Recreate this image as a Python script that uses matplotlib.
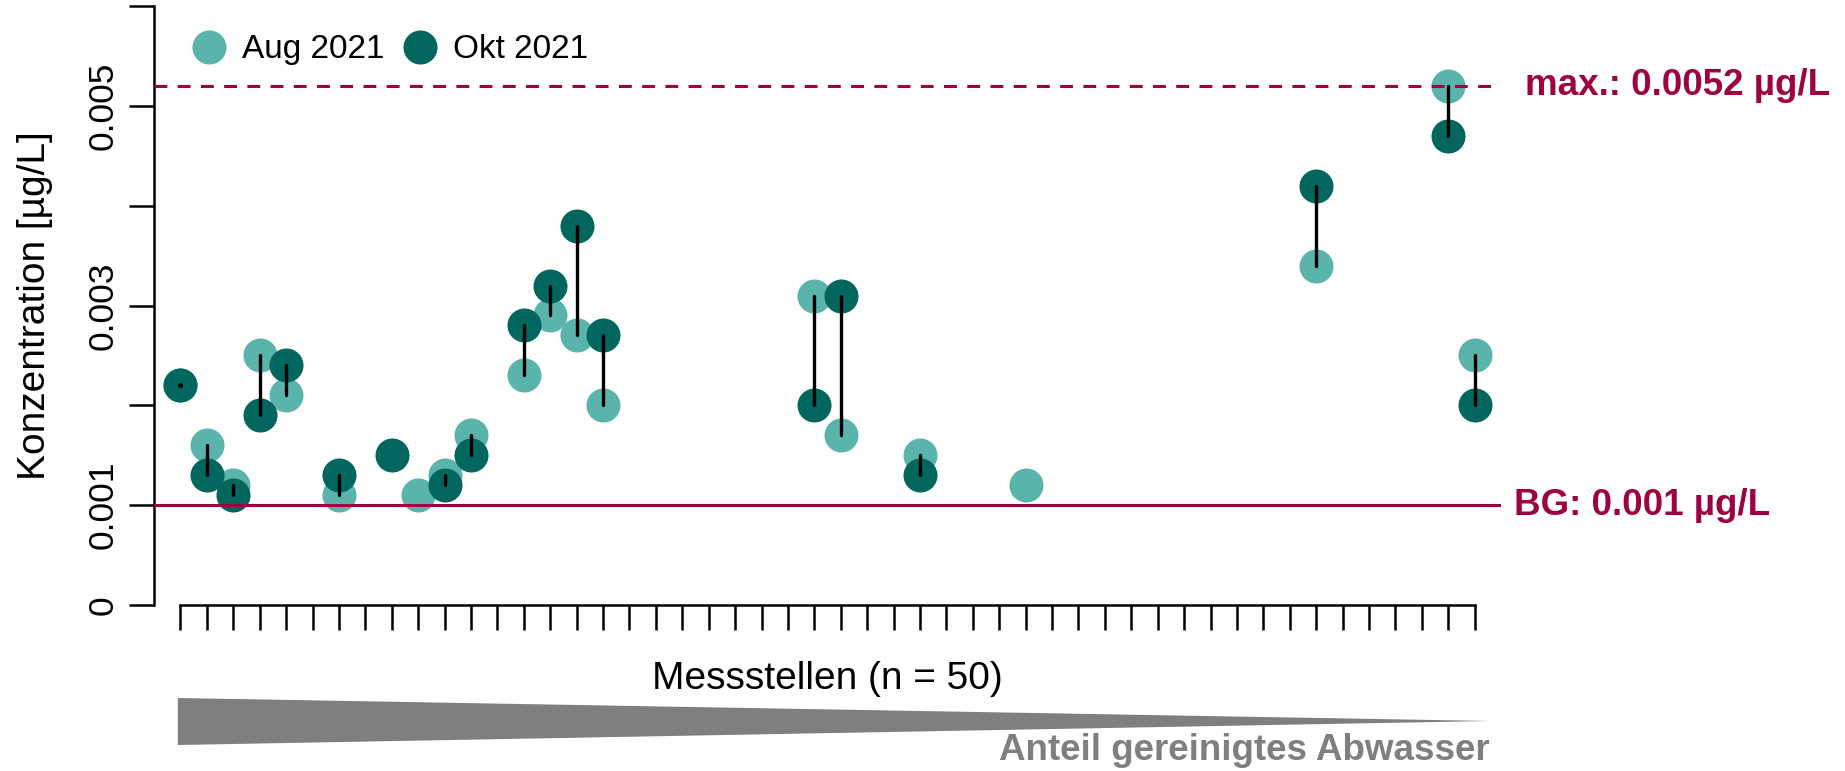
import matplotlib
matplotlib.use('Agg')
import matplotlib.pyplot as plt
import matplotlib.transforms as mtransforms
from matplotlib.patches import Polygon
import numpy as np

nan = np.nan

# Messstellen 1..50
stellen = np.arange(1, 51)
aug_2021 = [0.0022, 0.0016, 0.0012, 0.0025, 0.0021, nan, 0.0011, nan, nan, 0.0011,
            0.0013, 0.0017, nan, 0.0023, 0.0029, 0.0027, 0.0020, nan, nan, nan,
            nan, nan, nan, nan, 0.0031, 0.0017, nan, nan, 0.0015, nan,
            nan, nan, 0.0012, nan, nan, nan, nan, nan, nan, nan,
            nan, nan, nan, 0.0034, nan, nan, nan, nan, 0.0052, 0.0025]
okt_2021 = [0.0022, 0.0013, 0.0011, 0.0019, 0.0024, nan, 0.0013, nan, 0.0015, nan,
            0.0012, 0.0015, nan, 0.0028, 0.0032, 0.0038, 0.0027, nan, nan, nan,
            nan, nan, nan, nan, 0.0020, 0.0031, nan, nan, 0.0013, nan,
            nan, nan, nan, nan, nan, nan, nan, nan, nan, nan,
            nan, nan, nan, 0.0042, nan, nan, nan, nan, 0.0047, 0.0020]
serien = ['Aug 2021', 'Okt 2021']
max_wert = 0.0052
bg_wert = 0.001
yticks = [0, 0.001, 0.002, 0.003, 0.004, 0.005, 0.006]
ytick_labels = ['0', '0.001', '', '0.003', '', '0.005', '']

col_aug = '#5AB4AC'
col_okt = '#01665E'
col_lim = '#9E0142'

plt.rcParams['font.family'] = ['Liberation Sans', 'DejaVu Sans']


def main():
    aug = np.array(aug_2021)
    okt = np.array(okt_2021)

    fig = plt.figure(figsize=(18.45, 7.71), dpi=100)
    ax = fig.add_axes([0.0835, 0.2153, 0.7301, 0.7769])

    ax.plot(stellen, aug, 'o', ms=24.5, color=col_aug, mec='none', label=serien[0], zorder=2)
    ax.plot(stellen, okt, 'o', ms=24.5, color=col_okt, mec='none', label=serien[1], zorder=3)

    # Verbindung Aug -> Okt
    for x, a, o in zip(stellen, aug, okt):
        if not (np.isnan(a) or np.isnan(o)):
            ax.plot([x, x], [a, o], color='black', lw=2.4, solid_capstyle='round', zorder=5)
            if a == o:
                ax.plot([x], [a], 'o', ms=2.6, color='black', zorder=5)

    ax.axhline(max_wert, color=col_lim, lw=2.2, ls=(0, (4.2, 3.4)), zorder=4)
    ax.axhline(bg_wert, color=col_lim, lw=2.2, zorder=4)
    ax.annotate('max.: 0.0052 µg/L', xy=(1, max_wert), xycoords=('axes fraction', 'data'),
                xytext=(17, 0), textcoords='offset points', va='center', ha='left',
                fontsize=26.5, fontweight='bold', color=col_lim, annotation_clip=False)
    ax.annotate('BG: 0.001 µg/L', xy=(1, bg_wert), xycoords=('axes fraction', 'data'),
                xytext=(9, 0), textcoords='offset points', va='center', ha='left',
                fontsize=26.5, fontweight='bold', color=col_lim, annotation_clip=False)

    ax.set_xlim(0, 51)
    ax.set_ylim(0, 0.006)
    ax.spines['top'].set_visible(False)
    ax.spines['right'].set_visible(False)
    ax.spines['left'].set_linewidth(1.8)
    ax.spines['bottom'].set_linewidth(1.8)
    ax.spines['bottom'].set_bounds(1, 50)

    ax.set_xticks(stellen)
    ax.set_xticklabels([])
    ax.set_yticks(yticks)
    ax.set_yticklabels(ytick_labels, rotation=90, va='center', fontsize=25.5)
    ax.tick_params(axis='both', length=18, width=1.8, pad=7)

    ax.set_ylabel('Konzentration [µg/L]', fontsize=28, labelpad=24)
    ax.set_xlabel('Messstellen (n = 50)', fontsize=28, labelpad=15)

    ax.legend(loc='upper left', bbox_to_anchor=(-0.005, 1.0), ncol=2, frameon=False,
              fontsize=24, handletextpad=0.0, columnspacing=0.05, markerscale=1.0,
              borderaxespad=0.45)

    # Keil "Anteil gereinigtes Abwasser"
    trans = mtransforms.blended_transform_factory(ax.transData, fig.transFigure)
    keil = Polygon([[0.9, 1 - 698 / 771], [50.6, 1 - 721 / 771], [0.9, 1 - 745 / 771]],
                   closed=True, color='#7F7F7F', lw=0, transform=trans, clip_on=False)
    fig.patches.append(keil)
    fig.text(1490 / 1845, 1 - 751 / 771, 'Anteil gereinigtes Abwasser', ha='right', va='center',
             fontsize=26.5, fontweight='bold', color='#7F7F7F')

    fig.savefig('out.png', dpi=100)
    return 0


if __name__ == '__main__':
    main()
